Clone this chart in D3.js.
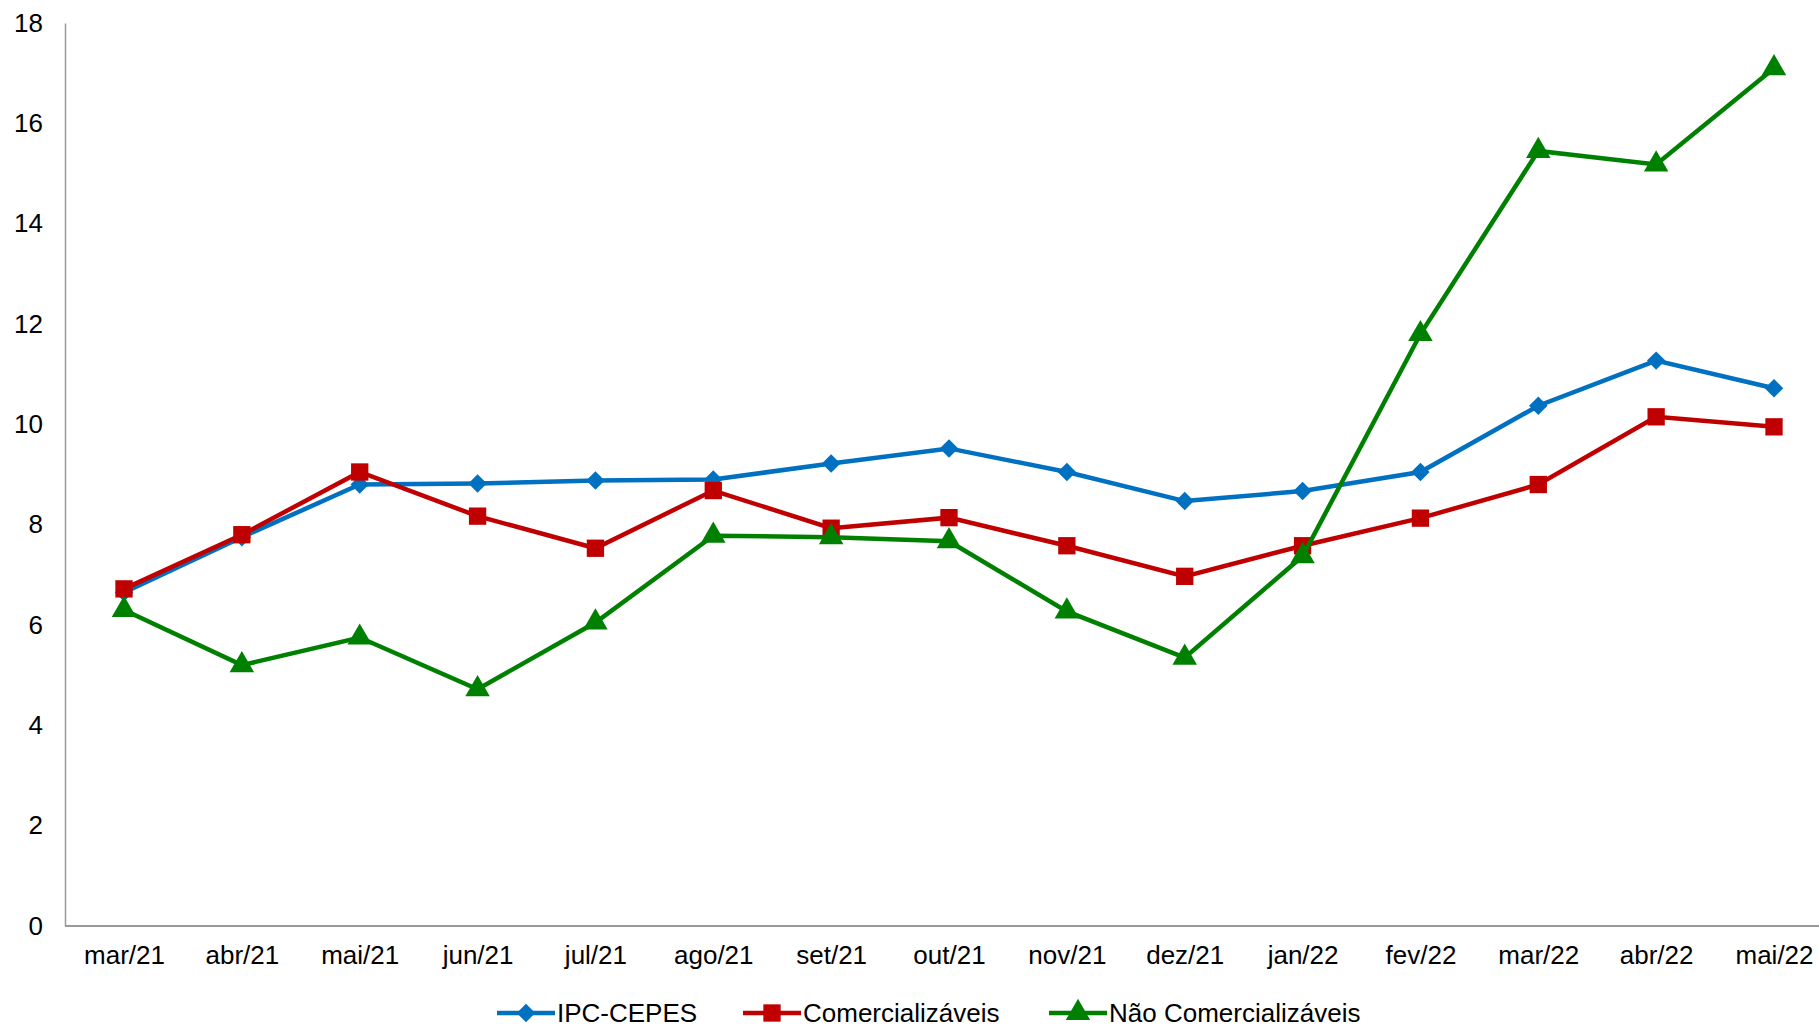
<!DOCTYPE html>
<html><head><meta charset="utf-8">
<script src="https://cdn.jsdelivr.net/npm/d3@7"></script>
<style>body{margin:0;background:#fff}text{font-family:"Liberation Sans",Arial,sans-serif}</style>
</head><body><svg id="c" width="1819" height="1027"></svg>
<script>
const months = ["mar/21","abr/21","mai/21","jun/21","jul/21","ago/21","set/21","out/21","nov/21","dez/21","jan/22","fev/22","mar/22","abr/22","mai/22"];
const ipc = [6.65,7.75,8.8,8.82,8.88,8.9,9.22,9.52,9.05,8.47,8.67,9.05,10.37,11.27,10.72];
const comerc = [6.72,7.8,9.05,8.17,7.53,8.68,7.93,8.14,7.58,6.97,7.58,8.13,8.8,10.15,9.95];
const naoComerc = [6.3,5.2,5.75,4.72,6.05,7.78,7.75,7.67,6.27,5.35,7.37,11.8,15.45,15.18,17.1];
const yTicks = [0,2,4,6,8,10,12,14,16,18];

const svg = d3.select("#c");
const mLeft = 65, mRight = 1819, mTop = 23, mBottom = 926;
const x = d3.scalePoint().domain(months).range([124, 1774]);
const y = d3.scaleLinear().domain([0,18]).range([mBottom, mTop]);

svg.append("g").attr("transform",`translate(0,${mBottom})`)
  .call(d3.axisBottom(x).tickSize(0).tickPadding(20))
  .call(g=>{g.select(".domain").attr("d",`M${mLeft},0H${mRight}`).attr("stroke","#999").attr("stroke-width",2);
    g.selectAll("text").attr("font-size",26).attr("fill","#000");});
svg.append("g").attr("transform",`translate(${mLeft},0)`)
  .call(d3.axisLeft(y).tickValues(yTicks).tickSize(0).tickPadding(22))
  .call(g=>{g.select(".domain").attr("stroke","#999").attr("stroke-width",1.5);
    g.selectAll("text").attr("font-size",26).attr("fill","#000");});

const series = [
  {name:"IPC-CEPES", vals:ipc, color:"#0070C0", sym:d3.symbolSquare, size:170, rot:45},
  {name:"Comercializáveis", vals:comerc, color:"#C00000", sym:d3.symbolSquare, size:300, rot:0},
  {name:"Não Comercializáveis", vals:naoComerc, color:"#008000", sym:d3.symbolTriangle, size:260, rot:0}
];
const line = d3.line().x((d,i)=>x(months[i])).y(d=>y(d));
series.forEach(s=>{
  svg.append("path").attr("d",line(s.vals)).attr("fill","none").attr("stroke",s.color).attr("stroke-width",4.5);
  svg.append("g").selectAll("path").data(s.vals).join("path")
    .attr("transform",(d,i)=>`translate(${x(months[i])},${y(d)}) rotate(${s.rot})`)
    .attr("d",d3.symbol(s.sym,s.size)).attr("fill",s.color);
});

const legX = [497, 743, 1049];
const lg = svg.append("g").attr("transform","translate(0,1013)");
series.forEach((s,i)=>{
  const g = lg.append("g").attr("transform",`translate(${legX[i]},0)`);
  g.append("line").attr("x1",0).attr("x2",58).attr("stroke",s.color).attr("stroke-width",4.5);
  g.append("path").attr("transform",`translate(29,0) rotate(${s.rot})`).attr("d",d3.symbol(s.sym,s.size)).attr("fill",s.color);
  g.append("text").attr("x",60).attr("dy","0.35em").attr("font-size",26).text(s.name);
});
</script></body></html>
